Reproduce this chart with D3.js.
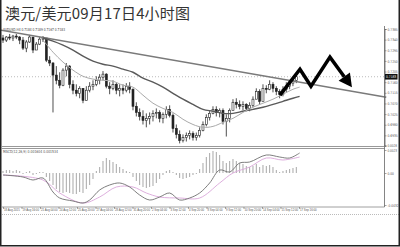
<!DOCTYPE html>
<html>
<head>
<meta charset="utf-8">
<script src="https://cdn.jsdelivr.net/npm/d3@7/dist/d3.min.js"></script>
<style>
	html, body { margin: 0; padding: 0; background: #fff; }
	svg { display: block; }
</style>
</head>
<body>
<div id="chart"></div>
<script>

const title = '澳元/美元09月17日4小时图';
const symbolInfo = 'AUDUSD,H4  0.7184 0.7189 0.7167 0.7183';
const macdInfo = 'MACD(12,26,9) 0.001604 0.001534';

// 4h bars, open = previous close
const firstOpen = 0.7347;
const closes = [
	0.7338, 0.7351, 0.7347, 0.7355, 0.7351, 0.7338, 0.7304, 0.7330, 0.7351, 0.7296,
	0.7321, 0.7342, 0.7347, 0.7253, 0.7241, 0.7190, 0.7168, 0.7147, 0.7211, 0.7228,
	0.7151, 0.7126, 0.7113, 0.7134, 0.7083, 0.7126, 0.7143, 0.7151, 0.7168, 0.7181,
	0.7194, 0.7143, 0.7134, 0.7151, 0.7126, 0.7134, 0.7126, 0.7143, 0.7130, 0.7058,
	0.7032, 0.7015, 0.6998, 0.7007, 0.7015, 0.7028, 0.7032, 0.7007, 0.7024, 0.7045,
	0.7020, 0.6964, 0.6939, 0.6913, 0.6926, 0.6935, 0.6943, 0.6926, 0.6935, 0.6956,
	0.6981, 0.7011, 0.7028, 0.7045, 0.7032, 0.7041, 0.6994, 0.7007, 0.7041, 0.7075,
	0.7066, 0.7058, 0.7066, 0.7049, 0.7062, 0.7088, 0.7121, 0.7079, 0.7134, 0.7130,
	0.7151, 0.7134, 0.7121, 0.7109, 0.7130, 0.7143, 0.7156, 0.7168, 0.7183
];
const highs = [
	0.7360, 0.7355, 0.7364, 0.7360, 0.7364, 0.7355, 0.7351, 0.7338, 0.7360, 0.7351,
	0.7330, 0.7351, 0.7355, 0.7347, 0.7270, 0.7245, 0.7228, 0.7202, 0.7219, 0.7241,
	0.7232, 0.7168, 0.7151, 0.7143, 0.7134, 0.7143, 0.7160, 0.7168, 0.7185, 0.7194,
	0.7207, 0.7198, 0.7160, 0.7168, 0.7160, 0.7151, 0.7151, 0.7156, 0.7160, 0.7134,
	0.7075, 0.7049, 0.7041, 0.7028, 0.7032, 0.7041, 0.7049, 0.7041, 0.7032, 0.7058,
	0.7062, 0.7028, 0.6981, 0.6956, 0.6939, 0.6947, 0.6956, 0.6952, 0.6947, 0.6969,
	0.6994, 0.7024, 0.7041, 0.7058, 0.7058, 0.7049, 0.7049, 0.7024, 0.7049, 0.7088,
	0.7092, 0.7083, 0.7079, 0.7071, 0.7075, 0.7100, 0.7134, 0.7130, 0.7151, 0.7147,
	0.7168, 0.7160, 0.7143, 0.7130, 0.7143, 0.7160, 0.7168, 0.7181, 0.7190
];
const lows = [
	0.7326, 0.7330, 0.7338, 0.7334, 0.7342, 0.7321, 0.7296, 0.7287, 0.7326, 0.7283,
	0.7296, 0.7317, 0.7330, 0.7245, 0.7228, 0.7032, 0.7151, 0.7134, 0.7143, 0.7185,
	0.7134, 0.7109, 0.7100, 0.7092, 0.7071, 0.7100, 0.7117, 0.7126, 0.7143, 0.7151,
	0.7168, 0.7134, 0.7109, 0.7126, 0.7109, 0.7100, 0.7109, 0.7117, 0.7113, 0.7041,
	0.7015, 0.6998, 0.6981, 0.6969, 0.6981, 0.6994, 0.7007, 0.6990, 0.6986, 0.7007,
	0.7011, 0.6947, 0.6922, 0.6901, 0.6905, 0.6909, 0.6918, 0.6913, 0.6913, 0.6926,
	0.6952, 0.6973, 0.6998, 0.7024, 0.7015, 0.7011, 0.6981, 0.6930, 0.6990, 0.7041,
	0.7049, 0.7045, 0.7041, 0.7037, 0.7037, 0.7054, 0.7088, 0.7066, 0.7083, 0.7113,
	0.7126, 0.7117, 0.7105, 0.7092, 0.7100, 0.7117, 0.7130, 0.7143, 0.7156
];

// moving averages, sampled every 3 bars
const maIdx = [12, 15, 18, 21, 24, 27, 30, 33, 36, 39, 42, 45, 48, 51, 54, 57, 60, 63, 66, 69, 72, 75, 78, 81, 84, 87, 89];
const maFast = [
	0.7338, 0.7287, 0.7245, 0.7211, 0.7185, 0.7173, 0.7168, 0.7164, 0.7147, 0.7139,
	0.7105, 0.7071, 0.7049, 0.7032, 0.7003, 0.6981, 0.6969, 0.6973, 0.6990, 0.7007,
	0.7032, 0.7054, 0.7071, 0.7088, 0.7109, 0.7130, 0.7139
];
const maSlow = [
	0.7347, 0.7334, 0.7317, 0.7296, 0.7270, 0.7249, 0.7236, 0.7228, 0.7215, 0.7202,
	0.7177, 0.7160, 0.7139, 0.7113, 0.7088, 0.7066, 0.7045, 0.7037, 0.7028, 0.7028,
	0.7037, 0.7045, 0.7054, 0.7066, 0.7079, 0.7092, 0.7100
];

// hand drawn trend line and forecast arrow (bar index, price)
const trendIdx = [-1, 115];
const trendPrice = [0.7381, 0.7096];
const arrowIdx = [83.1, 89.1, 92.4, 98.1, 104.7];
const arrowPrice = [0.7105, 0.7215, 0.7143, 0.7266, 0.7139];

const lastPrice = 0.7183;
const priceTicks = [0.7385, 0.7340, 0.7295, 0.7250, 0.7205, 0.7160, 0.7115, 0.7070, 0.7025, 0.6980, 0.6935];

// MACD panel
const histValues = [
	0.0002, 0.0003, 0.0003, 0.0002, 0.0003, 0.0002, -0.0001, 0.0001, 0.0002, -0.0002,
	-0.0001, 0.0001, 0.0001, -0.0004, -0.0008, -0.0012, -0.0016, -0.0019, -0.0020, -0.0019,
	-0.0020, -0.0021, -0.0021, -0.0019, -0.0020, -0.0016, -0.0012, -0.0006, 0.0002, 0.0006,
	0.0012, 0.0015, 0.0013, 0.0011, 0.0009, 0.0006, 0.0004, 0.0002, 0.0001, -0.0004,
	-0.0008, -0.0012, -0.0014, -0.0015, -0.0014, -0.0013, -0.0010, -0.0006, -0.0002, 0.0002,
	0.0003, 0.0001, -0.0002, -0.0005, -0.0006, -0.0005, -0.0004, -0.0002, -0.0001, 0.0004,
	0.0010, 0.0016, 0.0020, 0.0022, 0.0021, 0.0018, 0.0012, 0.0010, 0.0012, 0.0014,
	0.0012, 0.0010, 0.0009, 0.0007, 0.0006, 0.0007, 0.0009, 0.0006, 0.0008, 0.0007,
	0.0008, 0.0006, 0.0003, 0.0001, 0.0002, 0.0003, 0.0004, 0.0005, 0.0006
];
const macdIdx = [0, 6, 9, 12, 15, 17, 21, 24, 26, 29, 32, 35, 38, 41, 44, 47, 50, 53, 56, 59, 62, 65, 68, 71, 74, 79, 83, 86, 89];
const macdMain = [
	-0.0002, -0.0004, -0.0007, -0.0005, -0.0019, -0.0025, -0.0028, -0.0030, -0.0027, -0.0017,
	-0.0012, -0.0010, -0.0014, -0.0022, -0.0027, -0.0024, -0.0020, -0.0027, -0.0025, -0.0020,
	-0.0010, 0.0003, 0.0001, 0.0010, 0.0011, 0.0018, 0.0016, 0.0015, 0.0020
];
const signalIdx = [0, 12, 17, 24, 29, 34, 39, 43, 47, 53, 59, 65, 69, 74, 79, 84, 89];
const macdSignal = [
	-0.0002, -0.0007, -0.0020, -0.0030, -0.0024, -0.0014, -0.0014, -0.0020, -0.0024, -0.0025,
	-0.0025, -0.0010, 0.0000, 0.0006, 0.0015, 0.0013, 0.0016
];
const macdTicks = [0.0028, 0.0023, 0, -0.0032];
const macdTickLabels = ['0.0028', '0.0023', '0.00', '-0.0032'];

const datePos = [0, 5.55, 11.1, 16.65, 22.2, 27.75, 33.3, 38.85, 44.4, 49.95, 55.5, 61.05, 66.6, 72.15, 77.7, 83.25, 88.8];
const dateLabels = [
	'18 Aug 2015', '19 Aug 16:00', '21 Aug 04:00', '24 Aug 12:00', '25 Aug 20:00', '27 Aug 04:00',
	'28 Aug 12:00', '31 Aug 20:00', '2 Sep 04:00', '3 Sep 12:00', '4 Sep 20:00', '8 Sep 04:00',
	'9 Sep 12:00', '10 Sep 20:00', '14 Sep 04:00', '15 Sep 12:00', '17 Sep 16:00'
];

const W = 400, H = 247;
const plotL = 2, plotR = 384.5;
const tiny = 'DejaVu Sans, sans-serif';

const svg = d3.select('#chart')
	.append('svg')
	.attr('width', W)
	.attr('height', H);

svg.append('rect').attr('width', W).attr('height', H).attr('fill', '#fff');

const x = d3.scaleLinear().domain([0, 88]).range([3, 296.3]);
const y = d3.scaleLinear().domain([0.6890, 0.7385]).range([146, 29]);
const yM = d3.scaleLinear().domain([-0.0033, 0.0025]).range([206, 148]);

// squeeze tiny labels to the width they have in the picture
const squeeze = (sel, perChar) => sel
	.attr('textLength', function () { return this.textContent.length * perChar; })
	.attr('lengthAdjust', 'spacingAndGlyphs');

// title
svg.append('text')
	.attr('x', 5)
	.attr('y', 18.5)
	.attr('textLength', 185)
	.attr('lengthAdjust', 'spacing')
	.attr('font-family', '"Noto Sans CJK SC", sans-serif')
	.attr('font-size', 15)
	.attr('fill', '#333')
	.text(title);

svg.append('text')
	.attr('x', 3).attr('y', 31)
	.attr('font-family', tiny).attr('font-size', 4).attr('fill', '#444')
	.attr('textLength', 62).attr('lengthAdjust', 'spacingAndGlyphs')
	.text(symbolInfo);

// current price line
svg.append('line')
	.attr('x1', plotL).attr('x2', plotR)
	.attr('y1', y(lastPrice)).attr('y2', y(lastPrice))
	.attr('stroke', '#aaa').attr('stroke-width', 0.8)
	.attr('stroke-dasharray', '1,2');

// candles
const bars = closes.map((c, i) => ({
	i: i,
	o: i === 0 ? firstOpen : closes[i - 1],
	c: c,
	h: highs[i],
	l: lows[i],
}));

const candle = svg.append('g').selectAll('g')
	.data(bars)
	.join('g');

candle.append('line')
	.attr('x1', d => x(d.i)).attr('x2', d => x(d.i))
	.attr('y1', d => y(Math.max(d.h, d.o, d.c)))
	.attr('y2', d => y(Math.min(d.l, d.o, d.c)))
	.attr('stroke', '#222').attr('stroke-width', 0.8);

candle.append('rect')
	.attr('x', d => x(d.i) - 1)
	.attr('width', 2)
	.attr('y', d => y(Math.max(d.o, d.c)))
	.attr('height', d => Math.max(1, y(Math.min(d.o, d.c)) - y(Math.max(d.o, d.c))))
	.attr('fill', d => d.c < d.o ? '#222' : '#fff')
	.attr('stroke', '#222').attr('stroke-width', 0.6);

// moving averages and trend line
const priceLine = d3.line()
	.x(d => x(d[0]))
	.y(d => y(d[1]))
	.curve(d3.curveCatmullRom);

svg.append('path')
	.attr('d', priceLine(trendIdx.map((d, i) => [d, trendPrice[i]])))
	.attr('fill', 'none').attr('stroke', '#7a7a7a').attr('stroke-width', 1.6);

svg.append('path')
	.attr('d', priceLine(maIdx.map((d, i) => [d, maSlow[i]])))
	.attr('fill', 'none').attr('stroke', '#5a5a5a').attr('stroke-width', 1.4);

svg.append('path')
	.attr('d', priceLine(maIdx.map((d, i) => [d, maFast[i]])))
	.attr('fill', 'none').attr('stroke', '#aaa').attr('stroke-width', 1);

// forecast arrow
const pts = arrowIdx.map((d, i) => [x(d), y(arrowPrice[i])]);
const tip = pts[pts.length - 1];
const prev = pts[pts.length - 2];
const len = Math.hypot(tip[0] - prev[0], tip[1] - prev[1]);
const ux = (tip[0] - prev[0]) / len, uy = (tip[1] - prev[1]) / len;
const headL = 13, headW = 7;
const base = [tip[0] - ux * headL, tip[1] - uy * headL];

svg.append('path')
	.attr('d', d3.line()(pts.slice(0, -1).concat([base])))
	.attr('fill', 'none')
	.attr('stroke', '#000')
	.attr('stroke-width', 3.5)
	.attr('stroke-linejoin', 'miter');

svg.append('path')
	.attr('d', d3.line()([
		tip,
		[base[0] - uy * headW, base[1] + ux * headW],
		[base[0] + uy * headW, base[1] - ux * headW],
	]) + 'Z')
	.attr('fill', '#000');

// panel separators
[146.5, 148.5].forEach(v => {
	svg.append('line')
		.attr('x1', plotL).attr('x2', plotR)
		.attr('y1', v).attr('y2', v)
		.attr('stroke', '#999').attr('stroke-width', 1);
});

svg.append('line')
	.attr('x1', plotL).attr('x2', plotR)
	.attr('y1', 207).attr('y2', 207)
	.attr('stroke', '#888').attr('stroke-width', 0.8);

svg.append('text')
	.attr('x', 3).attr('y', 152.5)
	.attr('font-family', tiny).attr('font-size', 4).attr('fill', '#555')
	.attr('textLength', 55).attr('lengthAdjust', 'spacingAndGlyphs')
	.text(macdInfo);

// MACD histogram
svg.append('g').selectAll('rect')
	.data(histValues)
	.join('rect')
	.attr('x', (d, i) => x(i) - 0.5)
	.attr('width', 1)
	.attr('y', d => Math.min(yM(0), yM(d)))
	.attr('height', d => Math.abs(yM(d) - yM(0)))
	.attr('fill', '#a8a8a8');

const macdLine = d3.line()
	.x(d => x(d[0]))
	.y(d => yM(d[1]))
	.curve(d3.curveCatmullRom);

svg.append('path')
	.attr('d', macdLine(signalIdx.map((d, i) => [d, macdSignal[i]])))
	.attr('fill', 'none').attr('stroke', '#d9a6d9').attr('stroke-width', 0.9);

svg.append('path')
	.attr('d', macdLine(macdIdx.map((d, i) => [d, macdMain[i]])))
	.attr('fill', 'none').attr('stroke', '#6f6f6f').attr('stroke-width', 0.9);

// axes
const styleAxis = g => {
	g.select('.domain').attr('stroke', '#666').attr('stroke-width', 0.8);
	g.selectAll('.tick line').attr('stroke', '#666').attr('stroke-width', 0.6);
	g.selectAll('.tick text')
		.attr('font-family', tiny)
		.attr('font-size', 3.6)
		.attr('fill', '#555');
};

svg.append('g')
	.attr('transform', `translate(${plotR},0)`)
	.call(d3.axisRight(y).tickValues(priceTicks).tickSize(2).tickPadding(1).tickFormat(d3.format('.4f')))
	.call(styleAxis)
	.call(g => squeeze(g.selectAll('.tick text'), 1.7));

svg.append('g')
	.attr('transform', `translate(${plotR},0)`)
	.call(d3.axisRight(yM).tickValues(macdTicks).tickSize(2).tickPadding(1).tickFormat((d, i) => macdTickLabels[i]))
	.call(styleAxis)
	.call(g => g.select('.domain').remove())
	.call(g => squeeze(g.selectAll('.tick text'), 1.6));

svg.append('line')
	.attr('x1', plotR).attr('x2', plotR)
	.attr('y1', 26).attr('y2', 207)
	.attr('stroke', '#666').attr('stroke-width', 0.8);

// last price marker
svg.append('rect')
	.attr('x', plotR + 0.5).attr('y', y(lastPrice) - 2.8)
	.attr('width', 12.5).attr('height', 5.6)
	.attr('fill', '#111');

svg.append('text')
	.attr('x', plotR + 1.5).attr('y', y(lastPrice) + 1.4)
	.attr('font-family', tiny).attr('font-size', 3.6).attr('fill', '#fff')
	.attr('textLength', 10.2).attr('lengthAdjust', 'spacingAndGlyphs')
	.text(d3.format('.4f')(lastPrice));

// date axis
svg.append('g')
	.attr('transform', 'translate(0,207)')
	.call(d3.axisBottom(x).tickValues(datePos).tickSize(2).tickPadding(0.5).tickFormat((d, i) => dateLabels[i]))
	.call(styleAxis)
	.call(g => g.select('.domain').remove())
	.call(g => g.selectAll('.tick text')
		.attr('text-anchor', 'start')
		.attr('dx', 0.5)
		.attr('font-family', '"Liberation Sans", sans-serif')
		.attr('font-size', 2.8));

svg.append('line')
	.attr('x1', 0).attr('x2', W)
	.attr('y1', 214.5).attr('y2', 214.5)
	.attr('stroke', '#aaa').attr('stroke-width', 0.8)
	.attr('stroke-dasharray', '1,1');

// outer frame
svg.append('path')
	.attr('d', `M0.75,0 V${H - 1.25} H${W - 0.75} V0`)
	.attr('fill', 'none')
	.attr('stroke', '#222')
	.attr('stroke-width', 1.5);

</script>
</body>
</html>
